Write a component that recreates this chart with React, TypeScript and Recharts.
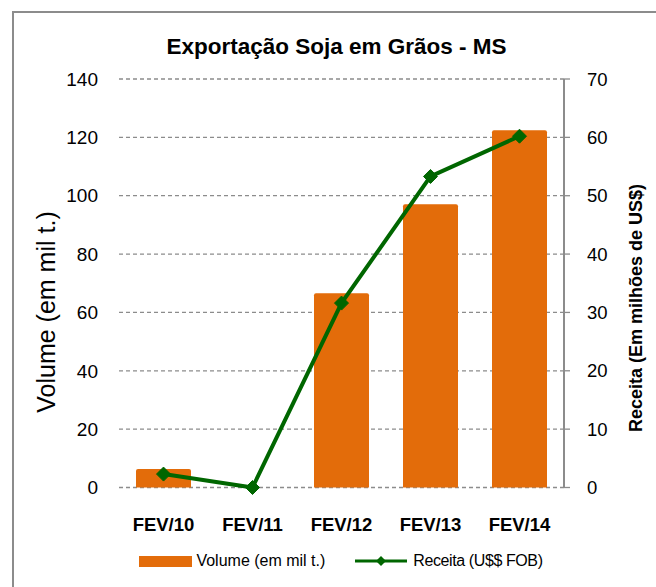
import { ComposedChart, Bar, Line, XAxis, YAxis, CartesianGrid, Legend } from 'recharts';

const categories = ['FEV/10', 'FEV/11', 'FEV/12', 'FEV/13', 'FEV/14'];
const volume = [6.3, 0, 66.6, 97.1, 122.4];
const receita = [2.3, 0, 31.6, 53.3, 60.2];
const leftTicks = [0, 20, 40, 60, 80, 100, 120, 140];
const rightTicks = [0, 10, 20, 30, 40, 50, 60, 70];

const data = categories.map((name, i) => ({ name, volume: volume[i], receita: receita[i] }));

const FONT = '"Liberation Sans", Arial, sans-serif';
const ORANGE = '#E36C0A';
const GREEN = '#006600';

const Diamond = (props: any) => {
  const { cx, cy } = props;
  if (cx == null || cy == null) return null;
  const r = 7;
  return (
    <polygon
      points={`${cx},${cy - r} ${cx + r},${cy} ${cx},${cy + r} ${cx - r},${cy}`}
      fill={GREEN}
      stroke={GREEN}
    />
  );
};

const LegendContent = () => (
  <div
    style={{
      display: 'flex',
      alignItems: 'center',
      justifyContent: 'center',
      height: 30,
      fontFamily: FONT,
      fontSize: 16,
      color: '#000',
      paddingLeft: 26,
    }}
  >
    <div style={{ width: 53, height: 11, background: ORANGE, marginRight: 4 }} />
    <span>Volume (em mil t.)</span>
    <svg width={52} height={14} style={{ marginLeft: 30, marginRight: 6 }}>
      <line x1={0} y1={7} x2={52} y2={7} stroke={GREEN} strokeWidth={3} />
      <polygon points="26,2 31,7 26,12 21,7" fill={GREEN} />
    </svg>
    <span style={{ letterSpacing: -0.4 }}>Receita (U$$ FOB)</span>
  </div>
);

export default function App() {
  return (
    <div
      style={{
        position: 'absolute',
        left: 0,
        top: 0,
        width: 656,
        height: 587,
        overflow: 'hidden',
        background: '#fff',
      }}
    >
      <div
        style={{
          position: 'absolute',
          left: 12,
          top: 11,
          width: 700,
          height: 700,
          border: '2px solid #8c8c8c',
        }}
      />
      <div
        style={{
          position: 'absolute',
          left: 0,
          top: 34,
          width: 673,
          textAlign: 'center',
          fontFamily: FONT,
          fontWeight: 'bold',
          fontSize: 22.5,
        }}
      >
        Exportação Soja em Grãos - MS
      </div>
      <div style={{ position: 'absolute', left: 0, top: 0 }}>
        <ComposedChart
          width={656}
          height={587}
          data={data}
          margin={{ top: 79, right: 0, bottom: 11, left: 0 }}
          style={{ fontFamily: FONT }}
        >
          <CartesianGrid
            vertical={false}
            stroke="#8c8c8c"
            strokeDasharray="4 3"
            strokeWidth={1.3}
            yAxisId="left"
          />
          <XAxis
            dataKey="name"
            axisLine={false}
            tickLine={false}
            height={58.5}
            tick={{ fill: '#000', fontSize: 18.5, fontWeight: 'bold' }}
            tickMargin={24.5}
            interval={0}
          />
          <YAxis
            yAxisId="left"
            orientation="left"
            width={119}
            domain={[0, 140]}
            ticks={leftTicks}
            axisLine={false}
            tickLine={false}
            tickMargin={15}
            tick={{ fill: '#000', fontSize: 19 }}
            label={{
              content: () => (
                <text
                  x={46}
                  y={312}
                  transform="rotate(-90 46 312)"
                  textAnchor="middle"
                  dominantBaseline="central"
                  fontSize={25}
                  fontFamily={FONT}
                  fill="#000"
                >
                  Volume (em mil t.)
                </text>
              ),
            }}
          />
          <YAxis
            yAxisId="right"
            orientation="right"
            width={92}
            domain={[0, 70]}
            ticks={rightTicks}
            axisLine={{ stroke: '#8c8c8c', strokeWidth: 2 }}
            tickLine={{ stroke: '#8c8c8c', strokeWidth: 1.3 }}
            tickSize={6}
            tickMargin={17}
            tick={{ fill: '#000', fontSize: 18.5 }}
            label={{
              content: () => (
                <text
                  x={636}
                  y={308}
                  transform="rotate(-90 636 308)"
                  textAnchor="middle"
                  dominantBaseline="central"
                  fontSize={18}
                  fontWeight="bold"
                  fontFamily={FONT}
                  fill="#000"
                >
                  Receita (Em milhões de US$)
                </text>
              ),
            }}
          />
          <Legend verticalAlign="bottom" height={30} content={<LegendContent />} />
          <Bar
            yAxisId="left"
            dataKey="volume"
            name="Volume (em mil t.)"
            fill={ORANGE}
            barSize={55}
            radius={[2, 2, 0, 0]}
            isAnimationActive={false}
          />
          <Line
            yAxisId="right"
            dataKey="receita"
            name="Receita (U$$ FOB)"
            stroke={GREEN}
            strokeWidth={4}
            dot={<Diamond />}
            activeDot={false}
            isAnimationActive={false}
          />
        </ComposedChart>
      </div>
    </div>
  );
}
